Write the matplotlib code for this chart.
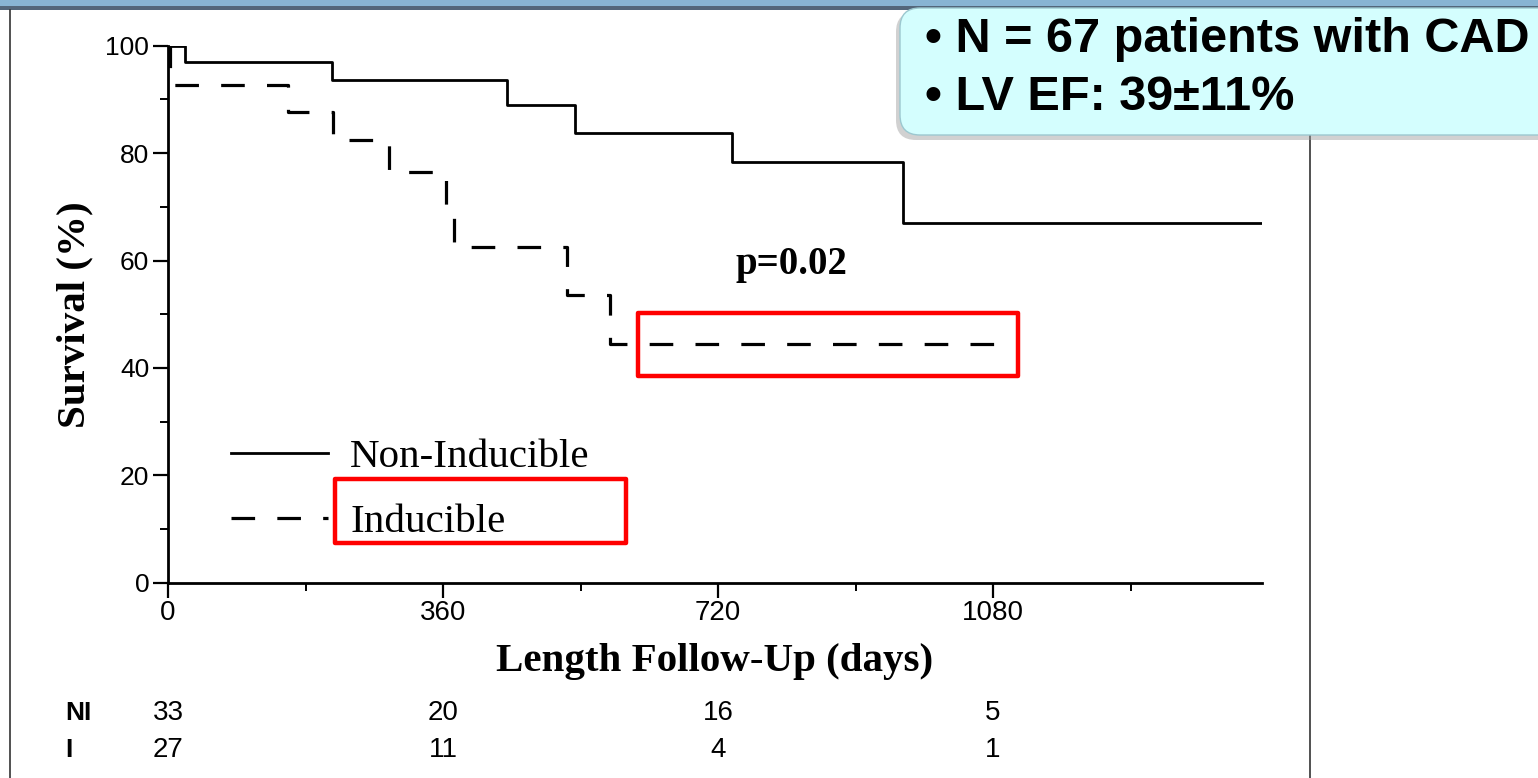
import matplotlib
matplotlib.use("Agg")
import matplotlib.pyplot as plt
from matplotlib.patches import Rectangle, FancyBboxPatch
from matplotlib.lines import Line2D
from matplotlib.ticker import MultipleLocator

plt.rcParams['lines.scale_dashes'] = False

# Kaplan-Meier steps (days, survival %)
ni_days = [0, 22, 215, 444, 533, 738, 962, 1432]
ni_surv = [100, 97.0, 93.6, 88.9, 83.7, 78.3, 67.0, 67.0]
i_days = [0, 2, 157, 216, 289, 364, 374, 522, 579, 1088]
i_surv = [100, 92.6, 87.6, 82.4, 76.5, 68.5, 62.6, 53.6, 44.5, 44.5]

# patients at risk
risk_days = [0, 360, 720, 1080]
risk_ni = [33, 20, 16, 5]
risk_i = [27, 11, 4, 1]

p_text = "p=0.02"
box_lines = ["\u2022 N = 67 patients with CAD", "\u2022 LV EF: 39\u00b111%"]

W, H = 1538, 778
SERIF = "Liberation Serif"
SANS = "Liberation Sans"

fig = plt.figure(figsize=(W / 100, H / 100), dpi=100)
fig.patch.set_facecolor("white")

def fx(x):
    return x / W

def fy(y):
    return 1 - y / H

# slide frame: blue strip on top, thin border around the figure panel
fig.add_artist(Rectangle((0, fy(6)), 1, 6 / H, transform=fig.transFigure,
                         facecolor="#88B4D3", edgecolor="none"))
fig.add_artist(Rectangle((0, fy(10)), 1, 4 / H, transform=fig.transFigure,
                         facecolor="#53667A", edgecolor="none"))
fig.add_artist(Line2D([fx(10), fx(10)], [fy(10), 0], transform=fig.transFigure,
                      color="#333333", lw=1.2))
fig.add_artist(Line2D([fx(1310), fx(1310)], [fy(130), 0], transform=fig.transFigure,
                      color="#333333", lw=1.2))

ax = fig.add_axes([fx(168), 195.3 / H, 1094 / W, 537 / H])
ax.set_facecolor("none")

ax.step(ni_days, ni_surv, where="post", color="black", lw=2.0,
        label="Non-Inducible")
ax.step(i_days, i_surv, where="post", color="black", lw=2.3,
        dashes=(17, 16), label="Inducible")

ax.set_xlim(0, 1432)
ax.set_ylim(0, 100)
ax.xaxis.set_major_locator(MultipleLocator(360))
ax.xaxis.set_minor_locator(MultipleLocator(180))
ax.yaxis.set_major_locator(MultipleLocator(20))
ax.yaxis.set_minor_locator(MultipleLocator(10))

for side in ["top", "right"]:
    ax.spines[side].set_visible(False)
for side in ["left", "bottom"]:
    ax.spines[side].set_linewidth(2.0)

ax.tick_params(which="major", length=10.5, width=1.6)
ax.tick_params(which="minor", length=5.8, width=1.4)
ax.tick_params(axis="x", which="major", pad=2, labelsize=20)
ax.tick_params(axis="y", which="major", pad=3, labelsize=19)
for lab in ax.get_xticklabels() + ax.get_yticklabels():
    lab.set_family(SANS)

ax.set_xlabel("Length Follow-Up (days)", family=SERIF, fontweight="bold",
              fontsize=29.5)
ax.xaxis.set_label_coords(0.5, -0.112)
ax.set_ylabel("Survival (%)", family=SERIF, fontweight="bold", fontsize=29.5)
ax.yaxis.set_label_coords(-0.068, 0.5)

ax.text(816, 59.3, p_text, ha="center", va="center", family=SERIF,
        fontweight="bold", fontsize=28)

ax.legend(loc="center left", bbox_to_anchor=(fx(231), fy(490)),
          bbox_transform=fig.transFigure, frameon=False, borderpad=0,
          borderaxespad=0, handlelength=2.36, handletextpad=0.55,
          labelspacing=0.66, prop={"family": SERIF, "size": 29.5})

# highlight boxes
for x0, x1, y0, y1 in [(615, 1113, 38.5, 50.2), (219, 600, 7.4, 19.3)]:
    ax.add_patch(Rectangle((x0, y0), x1 - x0, y1 - y0, fill=False,
                           edgecolor="#FF0000", lw=3.2, clip_on=False,
                           joinstyle="round", zorder=5))

# numbers at risk under the axis
xt = ax.get_xaxis_transform()
ax.text(-135, -0.2426, "NI", transform=xt, ha="left", va="center",
        family=SANS, fontweight="bold", fontsize=19)
ax.text(-135, -0.3117, "I", transform=xt, ha="left", va="center",
        family=SANS, fontweight="bold", fontsize=19)
for d, a, b in zip(risk_days, risk_ni, risk_i):
    ax.text(d, -0.2426, str(a), transform=xt, ha="center", va="center",
            family=SANS, fontsize=20)
    ax.text(d, -0.3117, str(b), transform=xt, ha="center", va="center",
            family=SANS, fontsize=20)

# callout box in the top right corner (display pixels)
fig.add_artist(FancyBboxPatch((896, H - 140), 700, 128,
                              boxstyle="round,pad=0,rounding_size=20",
                              transform=None, facecolor="#9A9A9A",
                              edgecolor="none", alpha=0.45, zorder=8))
fig.add_artist(FancyBboxPatch((900, H - 135), 700, 127,
                              boxstyle="round,pad=0,rounding_size=20",
                              transform=None, facecolor="#D4FEFE",
                              edgecolor="#9CC8D0", lw=1.0, zorder=9))
fig.text(fx(925), fy(52), box_lines[0], family=SANS, fontweight="bold",
         fontsize=35, va="baseline", ha="left", zorder=10)
fig.text(fx(925), fy(110), box_lines[1], family=SANS, fontweight="bold",
         fontsize=35, va="baseline", ha="left", zorder=10)

fig.savefig("out.png", dpi=100)
